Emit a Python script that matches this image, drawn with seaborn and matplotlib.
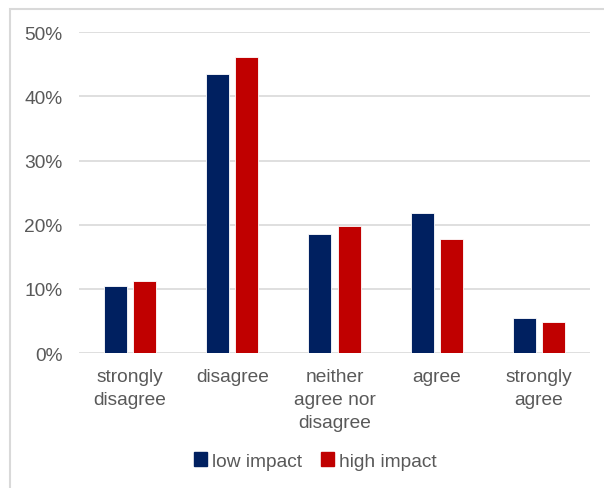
import numpy as np
import pandas as pd
import matplotlib
matplotlib.use('Agg')
import matplotlib.pyplot as plt
import matplotlib.patches as mpatches
from matplotlib.ticker import PercentFormatter
import seaborn as sns

# Data
categories = ['strongly\ndisagree', 'disagree', 'neither\nagree nor\ndisagree', 'agree', 'strongly\nagree']
low_impact = [10.5, 43.5, 18.5, 21.9, 5.4]
high_impact = [11.2, 46.2, 19.8, 17.7, 4.9]
series = ['low impact', 'high impact']
colors = ['#002060', '#C00000']

df = pd.DataFrame({
    'category': categories * 2,
    'impact': [series[0]] * len(categories) + [series[1]] * len(categories),
    'value': low_impact + high_impact,
})

sns.set_theme(style='white')
plt.rcParams['font.family'] = ['Liberation Sans', 'DejaVu Sans']

fig = plt.figure(figsize=(6.04, 4.89), dpi=100)
ax = fig.add_axes([0.1308, 0.276, 0.977 - 0.1308, 0.932 - 0.276])

sns.barplot(data=df, x='category', y='value', hue='impact', palette=colors,
            saturation=1, width=0.57, gap=0.21, edgecolor='white', linewidth=0.6,
            ax=ax, legend=False)

ax.set_ylim(0, 50)
ax.set_xlim(-0.5, 4.5)
ax.set_yticks(np.arange(0, 51, 10))
ax.yaxis.set_major_formatter(PercentFormatter(decimals=0))
ax.grid(axis='y', color='#d9d9d9', linewidth=1.2)
ax.set_axisbelow(True)
for s in ax.spines.values():
    s.set_visible(False)
ax.tick_params(axis='both', length=0, colors='#595959', labelsize=13.8)
ax.tick_params(axis='y', pad=12)
ax.tick_params(axis='x', pad=11)
for lbl in ax.get_xticklabels():
    lbl.set_linespacing(1.45)
    lbl.set_verticalalignment('top')
ax.set_xlabel('')
ax.set_ylabel('')

handles = [mpatches.Patch(color=c, label=s) for c, s in zip(colors, series)]
fig.legend(handles=handles, loc='center', bbox_to_anchor=(0.522, 0.055), ncol=2,
           frameon=False, fontsize=13.8, labelcolor='#595959',
           handlelength=0.7, handleheight=0.7, handletextpad=0.25, columnspacing=1.0)

# outer chart frame
fig.add_artist(mpatches.Rectangle((10 / 604, -0.1), 1.2, 1 - 10 / 489 + 0.1,
                                  transform=fig.transFigure, fill=False,
                                  edgecolor='#d9d9d9', linewidth=1.5))

fig.savefig('out.png', dpi=100)
